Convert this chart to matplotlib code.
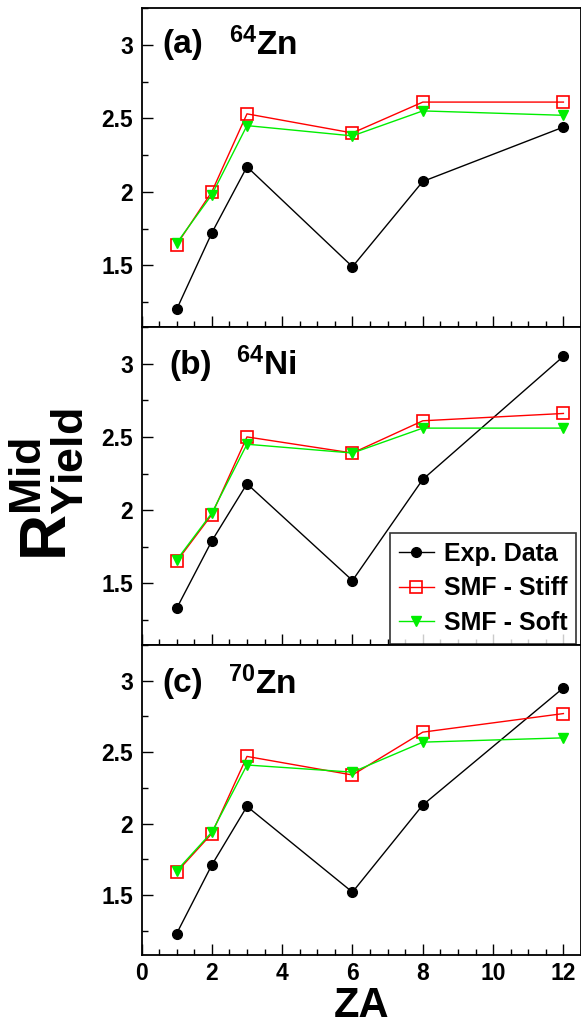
import matplotlib
matplotlib.use('Agg')
import matplotlib.pyplot as plt
from matplotlib.ticker import MultipleLocator, FormatStrFormatter

plt.rcParams['font.family'] = ['Liberation Sans', 'DejaVu Sans']
plt.rcParams['font.weight'] = 'bold'
plt.rcParams['mathtext.fontset'] = 'custom'
plt.rcParams['mathtext.rm'] = 'Liberation Sans:bold'
plt.rcParams['mathtext.bf'] = 'Liberation Sans:bold'
plt.rcParams['mathtext.it'] = 'Liberation Sans:bold'

# Fragment charge (ZA) values
za = [1, 2, 3, 6, 8, 12]

# Mid-rapidity yield ratio for each reaction system
exp_zn64 = [1.20, 1.72, 2.17, 1.49, 2.07, 2.44]
stiff_zn64 = [1.64, 2.00, 2.53, 2.40, 2.61, 2.61]
soft_zn64 = [1.65, 1.98, 2.45, 2.38, 2.55, 2.52]

exp_ni64 = [1.33, 1.79, 2.18, 1.52, 2.21, 3.05]
stiff_ni64 = [1.65, 1.97, 2.50, 2.39, 2.61, 2.66]
soft_ni64 = [1.66, 1.98, 2.45, 2.39, 2.56, 2.56]

exp_zn70 = [1.23, 1.71, 2.12, 1.52, 2.13, 2.95]
stiff_zn70 = [1.66, 1.93, 2.47, 2.34, 2.64, 2.77]
soft_zn70 = [1.67, 1.94, 2.41, 2.36, 2.57, 2.60]

panel_tags = ['(a)', '(b)', '(c)']
systems = [r'$^{64}$Zn', r'$^{64}$Ni', r'$^{70}$Zn']
series_labels = ['Exp. Data', 'SMF - Stiff', 'SMF - Soft']

panels = [
    (exp_zn64, stiff_zn64, soft_zn64),
    (exp_ni64, stiff_ni64, soft_ni64),
    (exp_zn70, stiff_zn70, soft_zn70),
]

W, H = 581, 1030
fig = plt.figure(figsize=(W / 100, H / 100), dpi=100)

# panel boxes in pixels: (top, bottom)
boxes = [(8, 327), (327, 645), (645, 955)]
left_px = 141.5
tag_x = [0.6, 0.8, 0.58]
sys_x = [2.5, 2.7, 2.45]
tag_y = [3.0, 2.99, 2.98]

axes = []
for i, ((top, bot), (exp, stiff, soft)) in enumerate(zip(boxes, panels)):
    ax = fig.add_axes([left_px / W, 1 - bot / H, 1 - left_px / W, (bot - top) / H])
    axes.append(ax)

    ax.plot(za, exp, color='black', lw=1, marker='o', ms=7,
            label=series_labels[0])
    ax.plot(za, stiff, color='#ff0000', lw=1, marker='s', ms=8,
            mfc='none', mec='#ff0000', mew=1.2, label=series_labels[1])
    ax.plot(za, soft, color='#00ee00', lw=1, marker='v', ms=7.5,
            label=series_labels[2])

    ax.set_xlim(0, 12.5)
    ax.set_ylim(1.08, 3.25)
    ax.xaxis.set_major_locator(MultipleLocator(2))
    ax.xaxis.set_minor_locator(MultipleLocator(0.5))
    ax.yaxis.set_major_locator(MultipleLocator(0.5))
    ax.yaxis.set_minor_locator(MultipleLocator(0.25))
    ax.yaxis.set_major_formatter(FormatStrFormatter('%g'))
    ax.tick_params(which='both', direction='in', top=False, right=False,
                   width=1)
    ax.tick_params(which='major', length=8, labelsize=16.5, pad=6)
    ax.tick_params(which='minor', length=4)
    for sp in ax.spines.values():
        sp.set_linewidth(1.3)
    if i < 2:
        ax.tick_params(labelbottom=False)

    ax.text(tag_x[i], tag_y[i], panel_tags[i], fontsize=24, fontweight='bold',
            va='center', ha='left')
    ax.text(sys_x[i], tag_y[i], systems[i], fontsize=24, fontweight='bold',
            va='center', ha='left')

# x tick labels only on the bottom panel
axes[2].tick_params(axis='x', labelsize=16.5, pad=5)
axes[2].xaxis.set_major_formatter(FormatStrFormatter('%d'))
axes[2].set_xlabel('ZA', fontsize=30, fontweight='bold', labelpad=1)

# legend sits in the middle panel
leg = axes[1].legend(loc='upper left', bbox_to_anchor=(390 / W, 1 - 533 / H),
                     bbox_transform=fig.transFigure, fontsize=18,
                     frameon=True, fancybox=False, borderaxespad=0,
                     handlelength=1.4, labelspacing=0.42, borderpad=0.35,
                     handletextpad=0.4)
leg.get_frame().set_edgecolor('black')
leg.get_frame().set_linewidth(1.2)
for t in leg.get_texts():
    t.set_fontweight('bold')

fig.text(46 / W, 1 - 485 / H, r'$\mathrm{R}^{Mid}_{Yield}$', rotation=90,
         fontsize=46, ha='center', va='center')

fig.savefig('out.png', dpi=100)
